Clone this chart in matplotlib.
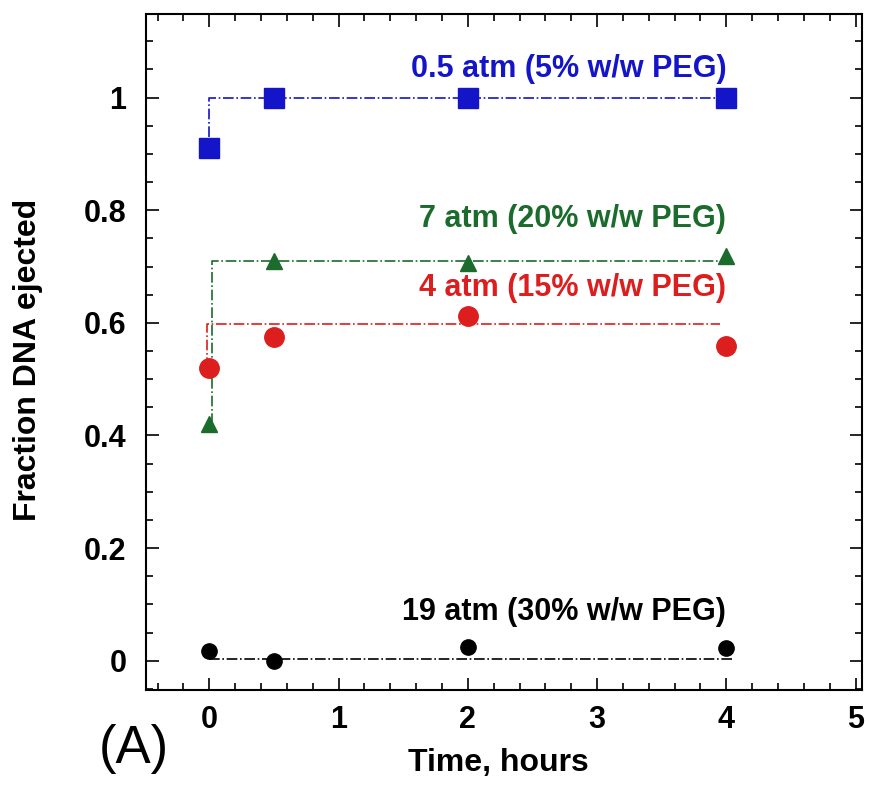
import matplotlib
matplotlib.use("Agg")
import matplotlib.pyplot as plt
from matplotlib.ticker import MultipleLocator, FuncFormatter

plt.rcParams['font.family'] = ['Liberation Sans', 'DejaVu Sans']

time_h = [0, 0.5, 2, 4]
frac_05atm = [0.91, 1.0, 1.0, 1.0]
frac_7atm = [0.42, 0.71, 0.707, 0.718]
frac_4atm = [0.52, 0.575, 0.612, 0.558]
frac_19atm = [0.018, 0.0, 0.025, 0.022]

# fitted step curves (x, y)
fit_05_x = [0, 0, 4]
fit_05_y = [0.93, 1.0, 1.0]
fit_7_x = [0.02, 0.02, 4]
fit_7_y = [0.42, 0.71, 0.71]
fit_4_x = [-0.02, -0.02, 3.95]
fit_4_y = [0.52, 0.598, 0.598]
fit_19_x = [0, 4.05]
fit_19_y = [0.003, 0.003]

labels = ["0.5 atm (5% w/w PEG)", "7 atm (20% w/w PEG)",
          "4 atm (15% w/w PEG)", "19 atm (30% w/w PEG)"]
label_y = [1.05, 0.784, 0.661, 0.087]
colors = ["#1414c8", "#1b6b2c", "#dc1e1e", "#000000"]

fig = plt.figure(figsize=(8.69, 7.86), dpi=100)
ax = fig.add_axes([0.168, 0.122, 0.824, 0.860])

ax.plot(fit_05_x, fit_05_y, color=colors[0], ls='-.', lw=1.2)
ax.plot(fit_7_x, fit_7_y, color=colors[1], ls='-.', lw=1.2)
ax.plot(fit_4_x, fit_4_y, color=colors[2], ls='-.', lw=1.2)
ax.plot(fit_19_x, fit_19_y, color=colors[3], ls='-.', lw=1.2)

ax.plot(time_h, frac_05atm, 's', color=colors[0], ms=14, ls='none')
ax.plot(time_h, frac_7atm, '^', color=colors[1], ms=12, ls='none')
ax.plot(time_h, frac_4atm, 'o', color=colors[2], ms=14, ls='none')
ax.plot(time_h, frac_19atm, 'o', color=colors[3], ms=11, ls='none')

for lab, yy, c in zip(labels, label_y, colors):
    ax.text(4.0, yy, lab, color=c, fontsize=22, fontweight='bold',
            ha='right', va='center')

ax.set_xlim(-0.49, 5.05)
ax.set_ylim(-0.052, 1.148)
ax.xaxis.set_major_locator(MultipleLocator(1))
ax.xaxis.set_minor_locator(MultipleLocator(0.2))
ax.yaxis.set_major_locator(MultipleLocator(0.2))
ax.yaxis.set_minor_locator(MultipleLocator(0.05))

def fmt(v, pos):
    s = f"{v:.1f}"
    if s.endswith(".0"):
        s = s[:-2]
    if s == "-0":
        s = "0"
    return s
ax.xaxis.set_major_formatter(FuncFormatter(fmt))
ax.yaxis.set_major_formatter(FuncFormatter(fmt))

ax.tick_params(which='both', direction='in', top=True, right=True, width=1.2)
ax.tick_params(which='major', length=9, labelsize=22)
ax.tick_params(axis='y', which='major', pad=14)
ax.tick_params(axis='x', which='major', pad=11)
ax.tick_params(which='minor', length=5)
for lab in ax.get_xticklabels() + ax.get_yticklabels():
    lab.set_fontweight('bold')
for sp in ax.spines.values():
    sp.set_linewidth(1.5)

fig.text(498 / 869, 1 - 763 / 786, "Time, hours", fontsize=23,
         fontweight='bold', ha='center', va='center')
fig.text(28 / 869, 1 - 360 / 786, "Fraction DNA ejected", fontsize=23,
         fontweight='bold', rotation=90, ha='center', va='center')
fig.text(134 / 869, 1 - 749 / 786, "(A)", fontsize=38, ha='center', va='center')

fig.savefig("out.png", dpi=100)
